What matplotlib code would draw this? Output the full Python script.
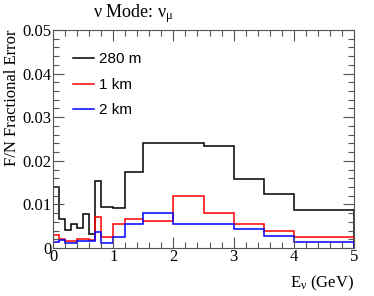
import matplotlib
matplotlib.use("Agg")
import matplotlib.pyplot as plt
import numpy as np
from matplotlib.ticker import MultipleLocator

# bin edges (GeV) and fractional errors per bin
edges = [0, 0.1, 0.2, 0.3, 0.4, 0.5, 0.6, 0.7, 0.8, 1.0, 1.2, 1.5, 2.0, 2.5, 3.0, 3.5, 4.0, 5.0]
err_280m = [0.0141, 0.0067, 0.0041, 0.0054, 0.0045, 0.0078, 0.0033, 0.0153, 0.0095,
            0.0091, 0.0174, 0.0240, 0.0240, 0.0233, 0.0158, 0.0123, 0.0087]
err_1km = [0.0029, 0.0020, 0.0017, 0.0017, 0.0020, 0.0020, 0.0018, 0.0072, 0.0026,
           0.0054, 0.0067, 0.0061, 0.0120, 0.0080, 0.0055, 0.0038, 0.0025]
err_2km = [0.0013, 0.0019, 0.0012, 0.0011, 0.0015, 0.0016, 0.0016, 0.0036, 0.0011,
           0.0026, 0.0055, 0.0080, 0.0055, 0.0056, 0.0043, 0.0028, 0.0013]
labels = ["280 m", "1 km", "2 km"]
colors = ["black", "red", "blue"]

serif = "Liberation Serif"
sans = "Liberation Sans"

# upright greek letters in serif font, like ROOT's TLatex
plt.rcParams["mathtext.fontset"] = "custom"
plt.rcParams["mathtext.rm"] = serif
plt.rcParams["mathtext.it"] = serif
plt.rcParams["mathtext.bf"] = serif

fig = plt.figure(figsize=(3.74, 2.96), dpi=100)
ax = fig.add_axes([53/374, 1 - 248/296, 301/374, 218/296])

for vals, lab, col in zip([err_280m, err_1km, err_2km], labels, colors):
    ax.stairs(vals, edges, color=col, lw=1.1, label=lab)

ax.set_xlim(0, 5)
ax.set_ylim(0, 0.05)
ax.xaxis.set_minor_locator(MultipleLocator(0.2))
ax.yaxis.set_minor_locator(MultipleLocator(0.002))
ax.tick_params(which="both", direction="in", top=True, right=True, color="#555555")
ax.tick_params(which="major", length=8, width=0.8, pad=1)
ax.tick_params(which="minor", length=4, width=0.8)
ax.set_xticks([0, 1, 2, 3, 4, 5])
ax.set_xticklabels(["0", "1", "2", "3", "4", "5"], fontfamily=serif, fontsize=12)
ax.set_yticks([0, 0.01, 0.02, 0.03, 0.04, 0.05])
ax.set_yticklabels(["0", "0.01", "0.02", "0.03", "0.04", "0.05"], fontfamily=serif, fontsize=12)
for s in ax.spines.values():
    s.set_color("#555555")

ax.set_xlabel(r"E$_\nu$ (GeV)", fontfamily=serif, fontsize=12, loc="right", labelpad=6)
ax.set_ylabel("F/N Fractional Error", fontfamily=serif, fontsize=12, loc="top", labelpad=2)

leg = ax.legend(loc="upper left", bbox_to_anchor=(0.02, 0.96), frameon=False,
                prop={"family": sans, "size": 11}, handlelength=1.4, handletextpad=0.3,
                labelspacing=0.75)

fig.text(0.355, 0.955, r"$\nu$ Mode: $\nu_\mu$", fontfamily=serif, fontsize=13,
         ha="center", va="center")

fig.savefig("out.png", dpi=100)
